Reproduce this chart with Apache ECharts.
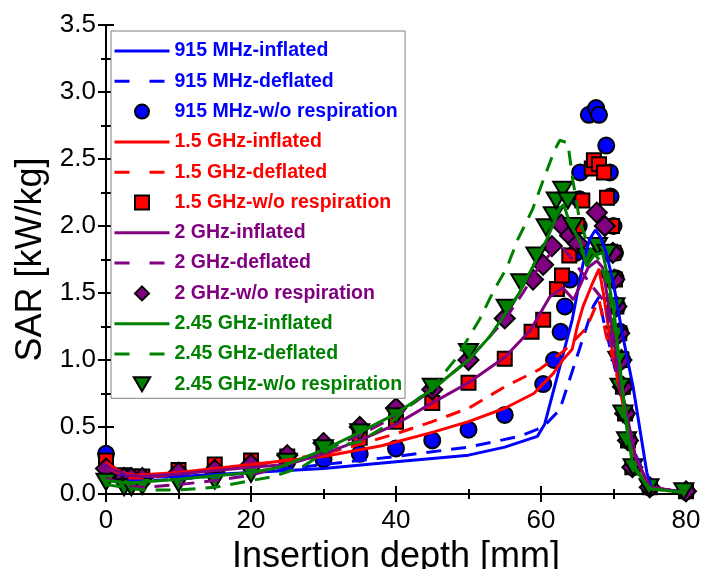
<!DOCTYPE html>
<html>
<head>
<meta charset="utf-8">
<script src="https://cdn.jsdelivr.net/npm/echarts@6/dist/echarts.min.js"></script>
<style>
  html, body { margin: 0; padding: 0; background: #fff; overflow: hidden; }
  #chart { width: 702px; height: 569px; }
</style>
</head>
<body>
<div id="chart"></div>
<script>
// SAR versus insertion depth, [depth mm, SAR kW/kg]

// 915 MHz
const sar915Inflated = [[0,0.22],[2,0.15],[4,0.13],[10,0.13],[20,0.16],[30,0.19],[40,0.24],[50,0.29],[55,0.35],[59.5,0.43],[60.5,0.52],[62.5,0.93],[64.3,1.30],[65.8,1.72],[66.7,1.90],[67.5,1.97],[68.2,1.92],[69,1.80],[70,1.57],[71.2,1.20],[72.7,0.80],[74.6,0.16],[75.2,0.05],[80,0.01]];
const sar915Deflated = [[0,0.20],[3,0.11],[5,0.10],[10,0.11],[20,0.16],[30,0.22],[40,0.28],[50,0.35],[57,0.43],[60.3,0.50],[62.6,0.63],[64.7,0.98],[67.2,1.40],[68,1.47],[68.6,1.30],[69.5,1.10],[71,0.75],[73,0.30],[75,0.05],[80,0.01]];
const sar915NoResp = [[0,0.30],[2.5,0.13],[3.5,0.11],[5,0.11],[10,0.15],[15,0.18],[20,0.21],[25,0.24],[30,0.26],[35,0.30],[40,0.34],[45,0.40],[50,0.48],[55,0.59],[60.3,0.82],[61.8,1.00],[62.7,1.21],[63.3,1.40],[64,1.60],[64.8,1.80],[65.2,2.00],[65.3,2.20],[65.4,2.40],[66.6,2.83],[67.6,2.88],[68,2.83],[69,2.60],[69.5,2.40],[69.6,2.22],[70,2.00],[70.2,1.80],[70.3,1.61],[70.5,1.40],[70.9,1.21],[71.2,1.00],[71.4,0.80],[71.7,0.60],[72.1,0.40],[72.7,0.20],[75,0.05],[80,0.02]];

// 1.5 GHz
const sar15Inflated = [[0,0.24],[2,0.16],[4,0.14],[10,0.16],[20,0.22],[30,0.28],[38,0.36],[45,0.46],[50,0.54],[55,0.64],[59,0.75],[61.7,0.90],[63,1.00],[64.3,1.08],[65,1.25],[65.8,1.40],[67,1.56],[68,1.68],[68.6,1.50],[69.5,1.17],[71,0.75],[73,0.28],[75,0.05],[80,0.01]];
const sar15Deflated = [[0,0.20],[3,0.12],[5,0.12],[10,0.15],[20,0.21],[30,0.30],[35,0.37],[40,0.45],[45,0.54],[50,0.64],[55,0.80],[59.8,0.93],[63.2,1.07],[66.3,1.24],[67.3,1.37],[68,1.45],[69,1.18],[70,1.00],[71,0.75],[73,0.28],[75,0.05],[80,0.01]];
const sar15NoResp = [[0,0.25],[2.5,0.14],[3.5,0.13],[5,0.13],[10,0.18],[15,0.22],[20,0.25],[25,0.28],[30,0.33],[35,0.42],[40,0.54],[45,0.68],[50,0.83],[55,1.01],[58.7,1.21],[60.3,1.30],[62.2,1.53],[62.9,1.63],[63.9,1.78],[65,2.00],[65.7,2.19],[67,2.43],[67.3,2.49],[68,2.46],[68.7,2.40],[69.1,2.21],[69.8,2.00],[70,1.80],[70.2,1.60],[70.4,1.40],[70.8,1.20],[71.1,1.00],[71.3,0.80],[71.6,0.60],[72,0.40],[72.6,0.20],[75,0.05],[80,0.02]];

// 2 GHz
const sar2Inflated = [[0,0.20],[3,0.14],[5,0.13],[10,0.15],[20,0.20],[25,0.22],[30,0.30],[35,0.40],[40,0.52],[45,0.68],[50,0.83],[55,1.02],[58.5,1.22],[61.2,1.47],[63,1.54],[64.5,1.45],[66.5,1.69],[67.7,1.74],[68.5,1.69],[69.5,1.35],[71,0.82],[73,0.28],[75,0.05],[80,0.01]];
const sar2Deflated = [[0,0.12],[3,0.06],[5,0.05],[10,0.07],[15,0.10],[20,0.14],[25,0.22],[30,0.32],[35,0.44],[40,0.58],[45,0.78],[50,1.00],[55,1.30],[57.5,1.50],[60,1.72],[61.5,1.80],[62.6,1.87],[65,1.70],[67.5,1.52],[69,1.42],[70,1.05],[71.5,0.65],[73,0.28],[75,0.05],[80,0.01]];
const sar2NoResp = [[0,0.19],[2.5,0.12],[3.5,0.12],[5,0.12],[10,0.16],[15,0.18],[20,0.22],[25,0.29],[30,0.38],[35,0.50],[40,0.64],[45,0.78],[50,1.00],[55,1.31],[58.9,1.60],[60.3,1.71],[61.5,1.85],[62.8,2.01],[64,1.93],[65.1,1.87],[67.7,2.10],[68.8,2.00],[69.9,1.80],[70.1,1.60],[70.4,1.40],[70.8,1.20],[71.1,1.00],[71.3,0.80],[71.6,0.60],[72,0.40],[72.6,0.20],[75,0.05],[80,0.02]];

// 2.45 GHz
const sar245Inflated = [[0,0.10],[3,0.08],[5,0.09],[10,0.11],[20,0.16],[24,0.20],[30,0.33],[35,0.46],[40,0.60],[45,0.78],[50,1.00],[53,1.18],[57,1.50],[60.8,1.90],[62.6,2.13],[63.1,2.16],[64,2.02],[65.4,1.88],[66.3,1.70],[67.3,1.78],[68.5,1.80],[69.3,1.60],[70.2,1.30],[71,0.90],[71.8,0.50],[72.7,0.20],[75,0.04],[80,0.01]];
const sar245Deflated = [[0,0.07],[5,0.03],[10,0.03],[15,0.05],[20,0.10],[23,0.13],[27,0.20],[31.3,0.35],[35,0.39],[39.2,0.53],[45.6,0.83],[48.4,1.02],[51.6,1.31],[53.4,1.51],[55.3,1.69],[56.8,1.90],[58.8,2.12],[60.5,2.37],[61.9,2.57],[62.6,2.64],[63.7,2.62],[64.4,2.34],[65.3,2.05],[66.5,1.85],[68,1.75],[69.3,1.55],[70.5,1.10],[71.5,0.65],[72.7,0.22],[75,0.04],[80,0.01]];
const sar245NoResp = [[0,0.09],[2.5,0.05],[3.5,0.05],[5,0.06],[10,0.08],[15,0.10],[20,0.15],[25,0.24],[30,0.34],[35,0.46],[40,0.58],[45,0.80],[50,1.06],[55.2,1.39],[57.2,1.58],[59.3,1.78],[60.7,1.99],[61.7,2.08],[62.1,2.19],[63,2.27],[63.7,2.19],[64.4,2.00],[66.3,1.77],[67.8,1.85],[69.1,1.80],[69.4,1.60],[70.2,1.40],[70.3,1.19],[70.6,1.00],[70.9,0.80],[71.3,0.60],[71.8,0.40],[72.7,0.20],[74.9,0.05],[79.7,0.02]];

const seriesNames = [
  '915 MHz-inflated', '915 MHz-deflated', '915 MHz-w/o respiration',
  '1.5 GHz-inflated', '1.5 GHz-deflated', '1.5 GHz-w/o respiration',
  '2 GHz-inflated', '2 GHz-deflated', '2 GHz-w/o respiration',
  '2.45 GHz-inflated', '2.45 GHz-deflated', '2.45 GHz-w/o respiration'
];

const BLUE = '#0000ff', RED = '#ff0000', PURPLE = '#800080', GREEN = '#008000';
const FONT = 'Liberation Sans, Arial, sans-serif';
const SQUARE = 'path://M0,0L10,0L10,10L0,10Z';
const DIAMOND = 'path://M5,0L10,5L5,10L0,5Z';
const TRI_DOWN = 'path://M0,0L20,0L10,17Z';

function lineSeries(name, data, color, dashed) {
  return {
    name, type: 'line', data, symbol: 'none', smooth: false,
    lineStyle: { color, width: 3, type: dashed ? [15, 10] : 'solid' },
    itemStyle: { color },
    emphasis: { disabled: true }, animation: false
  };
}
function markSeries(name, data, color, symbol, size) {
  return {
    name, type: 'scatter', data, symbol, symbolSize: size, symbolKeepAspect: true,
    itemStyle: { color, borderColor: '#000', borderWidth: 2, opacity: 1 },
    emphasis: { disabled: true }, animation: false
  };
}

const series = [
  lineSeries(seriesNames[0], sar915Inflated, BLUE, false),
  lineSeries(seriesNames[1], sar915Deflated, BLUE, true),
  markSeries(seriesNames[2], sar915NoResp, BLUE, 'circle', 16),
  lineSeries(seriesNames[3], sar15Inflated, RED, false),
  lineSeries(seriesNames[4], sar15Deflated, RED, true),
  markSeries(seriesNames[5], sar15NoResp, RED, SQUARE, 14),
  lineSeries(seriesNames[6], sar2Inflated, PURPLE, false),
  lineSeries(seriesNames[7], sar2Deflated, PURPLE, true),
  markSeries(seriesNames[8], sar2NoResp, PURPLE, DIAMOND, 20),
  lineSeries(seriesNames[9], sar245Inflated, GREEN, false),
  lineSeries(seriesNames[10], sar245Deflated, GREEN, true),
  markSeries(seriesNames[11], sar245NoResp, GREEN, TRI_DOWN, 19)
];

const colors = [BLUE, BLUE, BLUE, RED, RED, RED, PURPLE, PURPLE, PURPLE, GREEN, GREEN, GREEN];
const legendData = seriesNames.map((name, i) => {
  const item = { name, textStyle: { color: colors[i] } };
  if (i % 3 !== 2) {
    // line entries: no marker in the key, only the stroke
    item.itemStyle = { opacity: 0 };
    item.lineStyle = { type: i % 3 === 1 ? [15, 20] : 'solid', width: 3, color: colors[i], opacity: 1 };
  }
  return item;
});

const axisLineStyle = { lineStyle: { color: '#000', width: 2 } };
const tickStyle = { show: true, inside: false, length: 8, lineStyle: { color: '#000', width: 2 } };
const minorTickStyle = { show: true, splitNumber: 2, length: 5, lineStyle: { color: '#000', width: 2 } };

const chart = echarts.init(document.getElementById('chart'), null, { renderer: 'canvas', width: 702, height: 569 });
chart.setOption({
  animation: false,
  backgroundColor: '#fff',
  textStyle: { fontFamily: FONT },
  grid: { left: 106, right: 16, top: 25, bottom: 75, containLabel: false, outerBoundsMode: 'none' },
  legend: {
    orient: 'vertical', left: 111, top: 31,
    padding: [10, 3, 4, 2],
    itemWidth: 55, itemHeight: 14, itemGap: 10.3,
    borderColor: '#808080', borderWidth: 1, backgroundColor: '#fff',
    textStyle: { fontFamily: FONT, fontWeight: 'bold', fontSize: 19.5 },
    selectedMode: false,
    data: legendData
  },
  xAxis: [
    {
      type: 'value', position: 'bottom', min: 0, max: 80, interval: 20,
      name: 'Insertion depth [mm]', nameLocation: 'middle', nameGap: 35,
      nameTextStyle: { fontFamily: FONT, fontSize: 36, color: '#000' },
      axisLine: axisLineStyle, axisTick: tickStyle, minorTick: minorTickStyle,
      splitLine: { show: false },
      axisLabel: { fontFamily: FONT, fontSize: 26, color: '#000', margin: 14 }
    },
    {
      type: 'value', position: 'top', min: 0, max: 80, interval: 20,
      axisLine: axisLineStyle, axisTick: tickStyle, minorTick: minorTickStyle,
      splitLine: { show: false }, axisLabel: { show: false }
    }
  ],
  yAxis: [
    {
      type: 'value', position: 'left', min: 0, max: 3.5, interval: 0.5,
      name: 'SAR [kW/kg]', nameLocation: 'middle', nameGap: 57,
      nameTextStyle: { fontFamily: FONT, fontSize: 36, color: '#000' },
      axisLine: axisLineStyle, axisTick: tickStyle, minorTick: minorTickStyle,
      splitLine: { show: false },
      axisLabel: { fontFamily: FONT, fontSize: 26, color: '#000', margin: 10,
                   formatter: v => v.toFixed(1) }
    },
    {
      type: 'value', position: 'right', min: 0, max: 3.5, interval: 0.5,
      axisLine: axisLineStyle, axisTick: tickStyle, minorTick: minorTickStyle,
      splitLine: { show: false }, axisLabel: { show: false }
    }
  ],
  series
});
</script>
</body>
</html>
